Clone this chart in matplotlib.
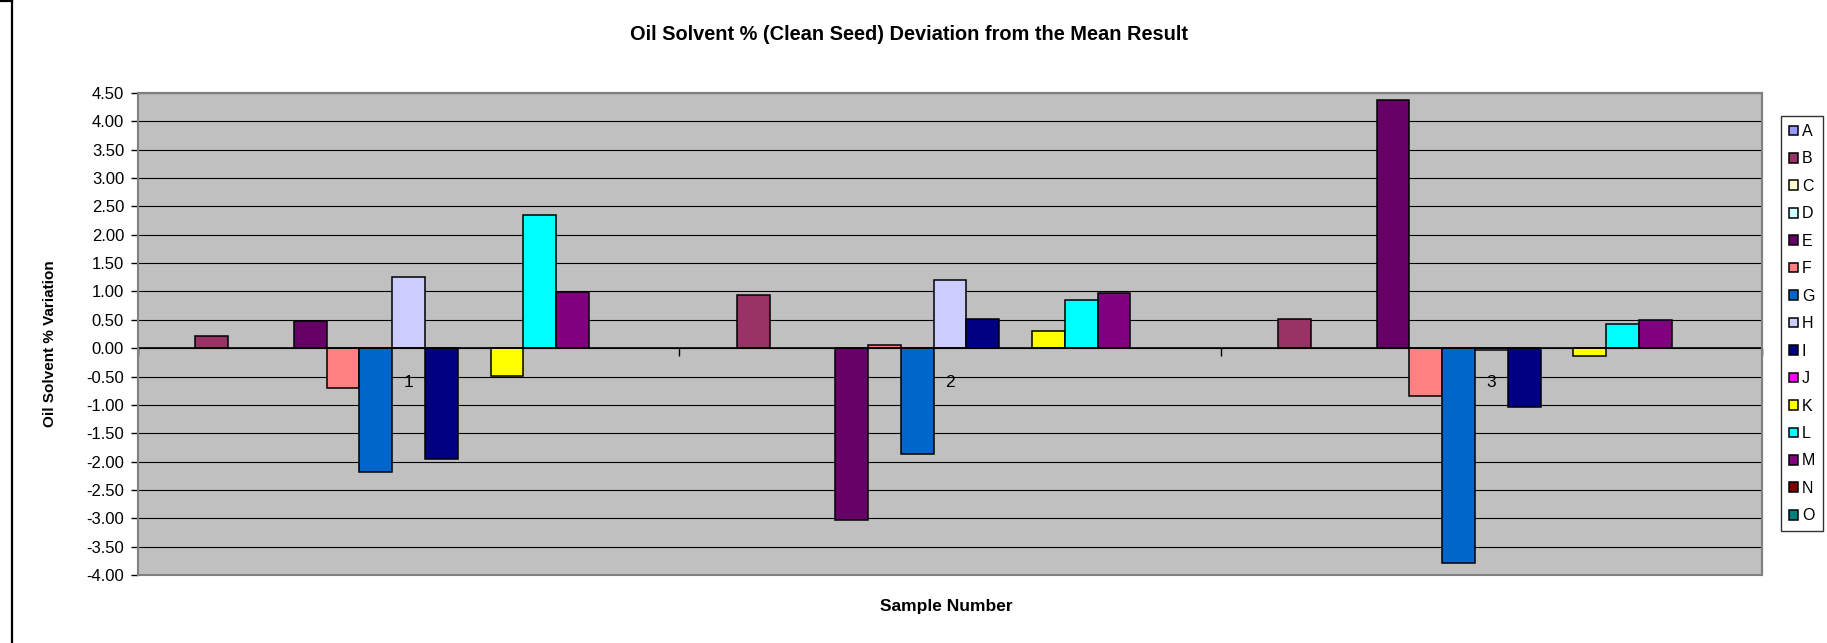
import numpy as np
import matplotlib
matplotlib.use("Agg")
import matplotlib.pyplot as plt
from matplotlib.lines import Line2D
from matplotlib.patches import Rectangle

plt.rcParams['font.family'] = ['Liberation Sans', 'DejaVu Sans']

# ---- data ----
categories = ["1", "2", "3"]
series_names = ["A", "B", "C", "D", "E", "F", "G", "H", "I", "J", "K", "L", "M", "N", "O"]
nan = np.nan
vals_A = [nan, nan, nan]
vals_B = [0.22, 0.93, 0.51]
vals_C = [nan, nan, nan]
vals_D = [nan, nan, nan]
vals_E = [0.48, -3.03, 4.38]
vals_F = [-0.70, 0.06, -0.85]
vals_G = [-2.18, -1.86, -3.79]
vals_H = [1.25, 1.21, -0.04]
vals_I = [-1.95, 0.52, -1.03]
vals_J = [nan, nan, nan]
vals_K = [-0.49, 0.31, -0.14]
vals_L = [2.34, 0.85, 0.42]
vals_M = [0.99, 0.98, 0.49]
vals_N = [nan, nan, nan]
vals_O = [nan, nan, nan]
colors = ["#9999FF", "#993366", "#FFFFCC", "#CCFFFF", "#660066", "#FF8080", "#0066CC",
          "#CCCCFF", "#000080", "#FF00FF", "#FFFF00", "#00FFFF", "#800080", "#800000", "#008080"]
yticks = [4.5, 4.0, 3.5, 3.0, 2.5, 2.0, 1.5, 1.0, 0.5, 0.0, -0.5, -1.0, -1.5, -2.0, -2.5, -3.0, -3.5, -4.0]

all_vals = [vals_A, vals_B, vals_C, vals_D, vals_E, vals_F, vals_G, vals_H, vals_I,
            vals_J, vals_K, vals_L, vals_M, vals_N, vals_O]

W, H = 1827, 643
fig = plt.figure(figsize=(W / 100, H / 100), dpi=100)
fig.patch.set_facecolor("white")

left, right, top, bottom = 138, 1762, 93, 575
ax = fig.add_axes([left / W, 1 - bottom / H, (right - left) / W, (bottom - top) / H])
ax.set_facecolor("#C0C0C0")

n = len(series_names)
bw = 1.0 / (n + 1.5)
x = np.arange(len(categories))
for i, (name, v, c) in enumerate(zip(series_names, all_vals, colors)):
    ax.bar(x + (i - (n - 1) / 2) * bw, v, width=bw, color=c, edgecolor="black",
           linewidth=1.1, label=name, zorder=3)

ax.set_xlim(-0.5, 2.5)
ax.set_ylim(-4.0, 4.5)
ax.set_yticks(yticks)
ax.set_yticklabels([f"{t:.2f}" for t in yticks], fontsize=12)
ax.yaxis.grid(True, color="black", linewidth=0.8, zorder=1)
ax.set_axisbelow(True)
ax.tick_params(axis="y", direction="out", length=5, width=1, color="black", pad=5)

# x axis at zero
ax.spines["bottom"].set_position(("data", 0))
ax.spines["bottom"].set_color("black")
ax.spines["bottom"].set_linewidth(1.2)
ax.spines["bottom"].set_zorder(4)
ax.set_xticks(x)
ax.set_xticklabels(categories, fontsize=12.5)
ax.set_xticks([-0.5, 0.5, 1.5, 2.5], minor=True)
ax.tick_params(axis="x", which="major", length=0, pad=19)
ax.tick_params(axis="x", which="minor", direction="out", length=6, width=1, color="black")
ax.spines["left"].set_color("black")
ax.spines["left"].set_linewidth(1.2)
for s in ["top", "right"]:
    ax.spines[s].set_color("#808080")
    ax.spines[s].set_linewidth(1.5)
ax.add_patch(Rectangle((0, 0), 1, 1, transform=ax.transAxes, fill=False,
                       edgecolor="#808080", linewidth=1.5, zorder=5, clip_on=False))

# titles
fig.text(909 / W, 1 - 35 / H, "Oil Solvent % (Clean Seed) Deviation from the Mean Result",
         ha="center", va="center", fontsize=14.4, fontweight="bold")
fig.text(50 / W, 1 - 344 / H, "Oil Solvent % Variation", ha="center", va="center",
         rotation=90, fontsize=11, fontweight="bold")
fig.text(946 / W, 1 - 606 / H, "Sample Number", ha="center", va="center",
         fontsize=12.5, fontweight="bold")

# legend
leg = ax.legend(loc="upper left", bbox_to_anchor=(1781 / W, 1 - 116 / H),
                bbox_transform=fig.transFigure, fontsize=11.5, frameon=True,
                fancybox=False, shadow=False, handlelength=0.55, handleheight=0.55,
                handletextpad=0.25, labelspacing=0.78, borderpad=0.5, borderaxespad=0)
leg.get_frame().set_edgecolor("black")
leg.get_frame().set_linewidth(1.0)

# left border of chart object
fig.add_artist(Line2D([11.5 / W, 11.5 / W], [0, 1], transform=fig.transFigure,
                      color="black", linewidth=1.6))
fig.add_artist(Line2D([0, 11.5 / W], [1 - 1 / H, 1 - 1 / H], transform=fig.transFigure,
                      color="black", linewidth=1.6))

fig.savefig("out.png", dpi=100)
